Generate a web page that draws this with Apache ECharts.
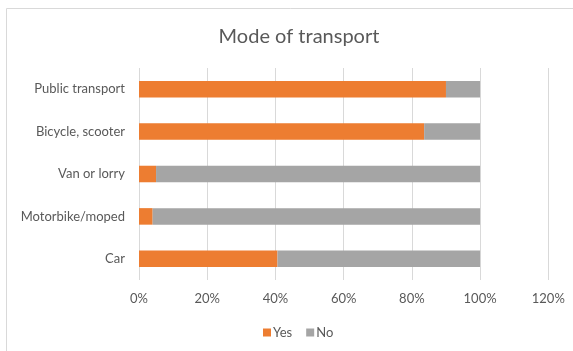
<!DOCTYPE html>
<html>
<head>
<meta charset="utf-8">
<script src="https://cdn.jsdelivr.net/npm/echarts@6/dist/echarts.min.js"></script>
<style>html,body{margin:0;padding:0;background:#fff;}#c{width:573px;height:351px;}</style>
</head>
<body>
<div id="c"></div>
<script>
const categories = ["Car", "Motorbike/moped", "Van or lorry", "Bicycle, scooter", "Public transport"];
const yesValues = [40.6, 4.0, 5.0, 83.6, 90.0];
const noValues = [59.4, 96.0, 95.0, 16.4, 10.0];
const tickLabels = ["0%", "20%", "40%", "60%", "80%", "100%", "120%"];

const FONT = "Lato";
const chart = echarts.init(document.getElementById('c'));
chart.setOption({
  animation: false,
  title: {
    text: "Mode of transport",
    left: 294,
    textAlign: 'center',
    top: 22,
    textStyle: { fontFamily: FONT, fontSize: 20, fontWeight: 'normal', color: '#595959' }
  },
  graphic: [{
    type: 'rect', shape: { x: 6.5, y: 8.5, width: 700, height: 500 },
    style: { fill: 'none', stroke: '#d9d9d9', lineWidth: 1 }, z: -1
  }],
  legend: {
    top: 321,
    left: 258,
    itemWidth: 8, itemHeight: 8, itemGap: 14,
    icon: 'rect',
    textStyle: { fontFamily: FONT, fontSize: 13, color: '#595959', padding: [0, 0, 0, -3] },
    data: ['Yes', 'No']
  },
  grid: { left: 139, right: 24.7, top: 68, bottom: 71, containLabel: false },
  xAxis: {
    type: 'value', min: 0, max: 120, interval: 20,
    axisLine: { show: false }, axisTick: { show: false },
    splitLine: { lineStyle: { color: '#d9d9d9', width: 1 } },
    axisLabel: {
      margin: 12, color: '#595959', fontFamily: FONT, fontSize: 13,
      formatter: function (v) { return tickLabels[Math.round(v / 20)]; }
    }
  },
  yAxis: {
    type: 'category', data: categories,
    axisLine: { show: false }, axisTick: { show: false },
    axisLabel: { margin: 14, color: '#595959', fontFamily: FONT, fontSize: 13 }
  },
  series: [
    { name: 'Yes', type: 'bar', stack: 't', data: yesValues, barCategoryGap: '61%', itemStyle: { color: '#ed7d31' } },
    { name: 'No', type: 'bar', stack: 't', data: noValues, barCategoryGap: '61%', itemStyle: { color: '#a5a5a5' } }
  ]
});
</script>
</body>
</html>
